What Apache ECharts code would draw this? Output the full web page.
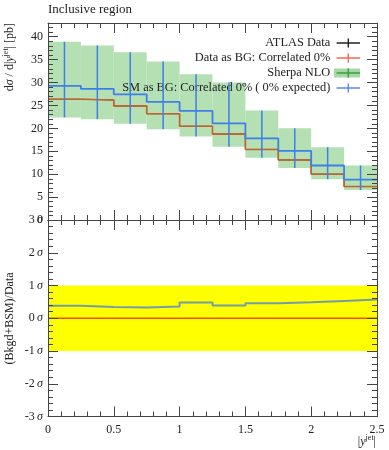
<!DOCTYPE html>
<html>
<head>
<meta charset="utf-8">
<script src="https://cdn.jsdelivr.net/npm/echarts@6/dist/echarts.min.js"></script>
<style>html,body{margin:0;padding:0;background:#fff}#c{width:389px;height:450px}</style>
</head>
<body>
<div id="c"></div>
<script>
// ---- data ----
const binEdges = [0, 0.25, 0.5, 0.75, 1.0, 1.25, 1.5, 1.75, 2.0, 2.25, 2.5];
const atlasData = [26.35, 26.2, 24.9, 23.2, 20.45, 18.75, 15.4, 13.1, 10.0, 7.3];
const dataAsBG = [26.35, 26.2, 24.9, 23.2, 20.45, 18.75, 15.4, 13.1, 10.0, 7.3];
const smAsBG = [29.26, 28.6, 27.4, 25.8, 23.8, 21.1, 17.8, 15.1, 11.9, 8.8];
const sherpaHigh = [38.9, 38.1, 36.6, 34.6, 31.8, 30.0, 23.9, 20.0, 15.9, 11.9];
const sherpaLow = [22.4, 22.0, 21.0, 19.8, 18.2, 16.0, 13.6, 11.35, 8.9, 6.55];
const ratioData = [0, 0, 0, 0, 0, 0, 0, 0, 0, 0];
const ratioSM = [0.38, 0.34, 0.33, 0.36, 0.48, 0.39, 0.46, 0.49, 0.53, 0.57];
const sigmaBand = [-1, 1];
const xTickLabels = ['0', '0.5', '1', '1.5', '2', '2.5'];
const sigmaTickLabels = ['-3', '-2', '-1', '0', '1', '2', '3'];

const legendNames = ['ATLAS Data', 'Data as BG: Correlated 0%', 'Sherpa NLO', 'SM as BG: Correlated 0% ( 0% expected)'];

const FONT = 'Liberation Serif';
const TXT = '#222';
const AX = '#444';

function stepData(vals) {
  const d = vals.map((v, i) => [binEdges[i], v]);
  d.push([binEdges[vals.length], vals[vals.length - 1]]);
  return d;
}
function binRows(lo, hi) {
  return lo.map((l, i) => [binEdges[i], binEdges[i + 1], l, hi[i]]);
}

function xAxisDef(grid, pos, labels) {
  return {
    type: 'value', gridIndex: grid, position: pos, min: 0, max: 2.5, interval: 0.5, z: 10,
    axisLine: { show: true, onZero: false, lineStyle: { color: AX, width: 1 } },
    axisTick: { show: true, inside: true, length: 10, lineStyle: { color: AX } },
    minorTick: { show: true, splitNumber: 5, length: 5, lineStyle: { color: AX } },
    splitLine: { show: false },
    axisLabel: {
      show: labels, margin: 7, color: TXT, fontFamily: FONT, fontSize: 12,
      formatter: v => { const i = Math.round(v / 0.5); return xTickLabels[i] !== undefined ? xTickLabels[i] : ''; }
    }
  };
}
function yTopDef(pos, interval, len, labels, line) {
  return {
    type: 'value', gridIndex: 0, position: pos, min: 0, max: 43, interval: interval, z: 10,
    axisLine: { show: line, onZero: false, lineStyle: { color: AX, width: 1 } },
    axisTick: { show: true, inside: true, length: len, lineStyle: { color: AX } },
    splitLine: { show: false },
    axisLabel: { show: labels, showMaxLabel: false, margin: 5, color: TXT, fontFamily: FONT, fontSize: 12 }
  };
}
function yBotDef(pos, labels) {
  return {
    type: 'value', gridIndex: 1, position: pos, min: -3, max: 3, interval: 1, z: 10,
    axisLine: { show: true, onZero: false, lineStyle: { color: AX, width: 1 } },
    axisTick: { show: true, inside: true, length: 10, lineStyle: { color: AX } },
    minorTick: { show: true, splitNumber: 5, length: 5, lineStyle: { color: AX } },
    splitLine: { show: false },
    axisLabel: {
      show: labels, margin: 5, color: TXT, fontFamily: FONT, fontSize: 12,
      formatter: v => sigmaTickLabels[Math.round(v) + 3] + '\u2009{s|σ}',
      rich: { s: { fontFamily: FONT, fontSize: 12, fontStyle: 'italic', color: TXT } }
    }
  };
}

const crossIcon = 'path://M0,4.2L26,4.2L26,5.8L0,5.8Z M12.2,0L13.8,0L13.8,10L12.2,10Z';
const boxIcon = 'path://M0,0.5L26,0.5L26,9.5L0,9.5Z';

const legendCommon = {
  orient: 'vertical', right: 29, top: 36, align: 'right',
  itemWidth: 26, itemHeight: 9, itemGap: 1, padding: 0, selectedMode: false,
  textStyle: { fontFamily: FONT, fontSize: 12.4, lineHeight: 14, color: TXT },
  itemStyle: { borderWidth: 0 }
};

const option = {
  animation: false,
  backgroundColor: '#fff',
  grid: [
    { left: 48, right: 12, top: 23, height: 197, show: false },
    { left: 48, right: 12, top: 220, height: 196.5, show: false }
  ],
  xAxis: [
    xAxisDef(0, 'bottom', false),
    xAxisDef(0, 'top', false),
    xAxisDef(1, 'bottom', true),
    xAxisDef(1, 'top', false)
  ],
  yAxis: [
    yTopDef('left', 5, 10, true, true),
    yTopDef('left', 1, 5, false, false),
    yTopDef('right', 5, 10, false, true),
    yTopDef('right', 1, 5, false, false),
    yBotDef('left', true),
    yBotDef('right', false)
  ],
  legend: [
    Object.assign({}, legendCommon, {
      z: 3,
      textStyle: Object.assign({}, legendCommon.textStyle, { color: 'rgba(0,0,0,0)' }),
      data: [
        { name: legendNames[0], icon: 'none' },
        { name: legendNames[1], icon: 'none' },
        { name: legendNames[2], icon: boxIcon, itemStyle: { color: '#a6d8a6', borderWidth: 0 } },
        { name: legendNames[3], icon: 'none' }
      ]
    }),
    Object.assign({}, legendCommon, {
      z: 4,
      data: [
        { name: legendNames[0], icon: crossIcon, itemStyle: { color: '#222', borderWidth: 0 } },
        { name: legendNames[1], icon: crossIcon, itemStyle: { color: '#f26a52', borderWidth: 0 } },
        { name: legendNames[2], icon: crossIcon, itemStyle: { color: '#3c9e3c', borderWidth: 0 } },
        { name: legendNames[3], icon: crossIcon, itemStyle: { color: '#5a8cf0', borderWidth: 0 } }
      ]
    })
  ],
  graphic: [
    { type: 'text', left: 48, top: 3, z: 20,
      style: { text: 'Inclusive region', fontFamily: FONT, fontSize: 13, fill: TXT } },
    { type: 'text', x: 10, y: 23, rotation: Math.PI / 2, z: 20,
      style: {
        text: '{n|d}{i|σ}{n| / d|}{i|y}{s|jet}{n|| [pb]}',
        align: 'right', verticalAlign: 'middle', fill: TXT,
        rich: {
          n: { fontFamily: FONT, fontSize: 12, fill: TXT, lineHeight: 16, verticalAlign: 'middle' },
          i: { fontFamily: FONT, fontSize: 12, fontStyle: 'italic', fill: TXT, lineHeight: 16, verticalAlign: 'middle' },
          s: { fontFamily: FONT, fontSize: 8, fill: TXT, lineHeight: 16, verticalAlign: 'top' }
        }
      } },
    { type: 'text', x: 10, y: 318.5, rotation: Math.PI / 2, z: 20,
      style: { text: '(Bkgd+BSM)/Data', align: 'center', verticalAlign: 'middle',
        fontFamily: FONT, fontSize: 12, fill: TXT } },
    { type: 'text', x: 376, y: 442, z: 20,
      style: {
        text: '{n||}{i|y}{s|jet}{n||}',
        align: 'right', verticalAlign: 'middle', fill: TXT,
        rich: {
          n: { fontFamily: FONT, fontSize: 12, fill: TXT, lineHeight: 16, verticalAlign: 'middle' },
          i: { fontFamily: FONT, fontSize: 12, fontStyle: 'italic', fill: TXT, lineHeight: 16, verticalAlign: 'middle' },
          s: { fontFamily: FONT, fontSize: 8, fill: TXT, lineHeight: 16, verticalAlign: 'top' }
        }
      } }
  ],
  series: [
    // Sherpa NLO band
    {
      name: legendNames[2], type: 'custom', xAxisIndex: 0, yAxisIndex: 0, z: 1,
      itemStyle: { color: '#b4e0b4' },
      encode: { x: [0, 1], y: [2, 3] },
      data: binRows(sherpaLow, sherpaHigh),
      renderItem: (params, api) => {
        const p0 = api.coord([api.value(0), api.value(3)]);
        const p1 = api.coord([api.value(1), api.value(2)]);
        return { type: 'rect', shape: { x: p0[0], y: p0[1], width: p1[0] - p0[0], height: p1[1] - p0[1] },
          style: { fill: '#b4e0b4' } };
      }
    },
    // ATLAS data (under the red line)
    {
      name: legendNames[0], type: 'line', xAxisIndex: 0, yAxisIndex: 0, z: 2,
      step: 'end', symbol: 'none', data: stepData(atlasData),
      itemStyle: { color: '#222' }, lineStyle: { color: '#333', width: 1 }
    },
    {
      name: legendNames[1], type: 'line', xAxisIndex: 0, yAxisIndex: 0, z: 3,
      step: 'end', symbol: 'none', data: stepData(dataAsBG),
      itemStyle: { color: '#f26a52' }, lineStyle: { color: '#c4632c', width: 1.6 }
    },
    // SM as BG error bars
    {
      name: legendNames[3], type: 'custom', xAxisIndex: 0, yAxisIndex: 0, z: 4,
      itemStyle: { color: '#5a8cf0' },
      encode: { x: [0, 1], y: [2, 3] },
      data: binRows(sherpaLow, sherpaHigh),
      renderItem: (params, api) => {
        const xc = (api.value(0) + api.value(1)) / 2;
        const p0 = api.coord([xc, api.value(3)]);
        const p1 = api.coord([xc, api.value(2)]);
        return { type: 'line', shape: { x1: p0[0], y1: p0[1], x2: p1[0], y2: p1[1] },
          style: { stroke: '#3f7fe8', lineWidth: 1.5 } };
      }
    },
    {
      name: legendNames[3], type: 'line', xAxisIndex: 0, yAxisIndex: 0, z: 5,
      step: 'end', symbol: 'none', data: stepData(smAsBG),
      itemStyle: { color: '#5a8cf0' }, lineStyle: { color: '#3f7fe8', width: 1.8 }
    },
    // bottom panel: yellow 1 sigma band
    {
      name: 'sigma band', type: 'custom', xAxisIndex: 2, yAxisIndex: 4, z: 1,
      encode: { x: [0, 1], y: [2, 3] },
      data: [[binEdges[0], binEdges[binEdges.length - 1], sigmaBand[0], sigmaBand[1]]],
      renderItem: (params, api) => {
        const p0 = api.coord([api.value(0), api.value(3)]);
        const p1 = api.coord([api.value(1), api.value(2)]);
        return { type: 'rect', shape: { x: p0[0], y: p0[1], width: p1[0] - p0[0], height: p1[1] - p0[1] },
          style: { fill: '#ffff00' } };
      }
    },
    {
      name: 'ratio data', type: 'line', xAxisIndex: 2, yAxisIndex: 4, z: 3,
      step: 'end', symbol: 'none', data: stepData(ratioData),
      lineStyle: { color: '#f0501e', width: 1.5 }
    },
    {
      name: 'ratio SM', type: 'line', xAxisIndex: 2, yAxisIndex: 4, z: 4,
      step: 'end', symbol: 'none', data: stepData(ratioSM),
      lineStyle: { color: 'rgba(60,120,230,0.72)', width: 2 }
    }
  ]
};

const chart = echarts.init(document.getElementById('c'), null, { renderer: 'canvas' });
chart.setOption(option);
</script>
</body>
</html>
